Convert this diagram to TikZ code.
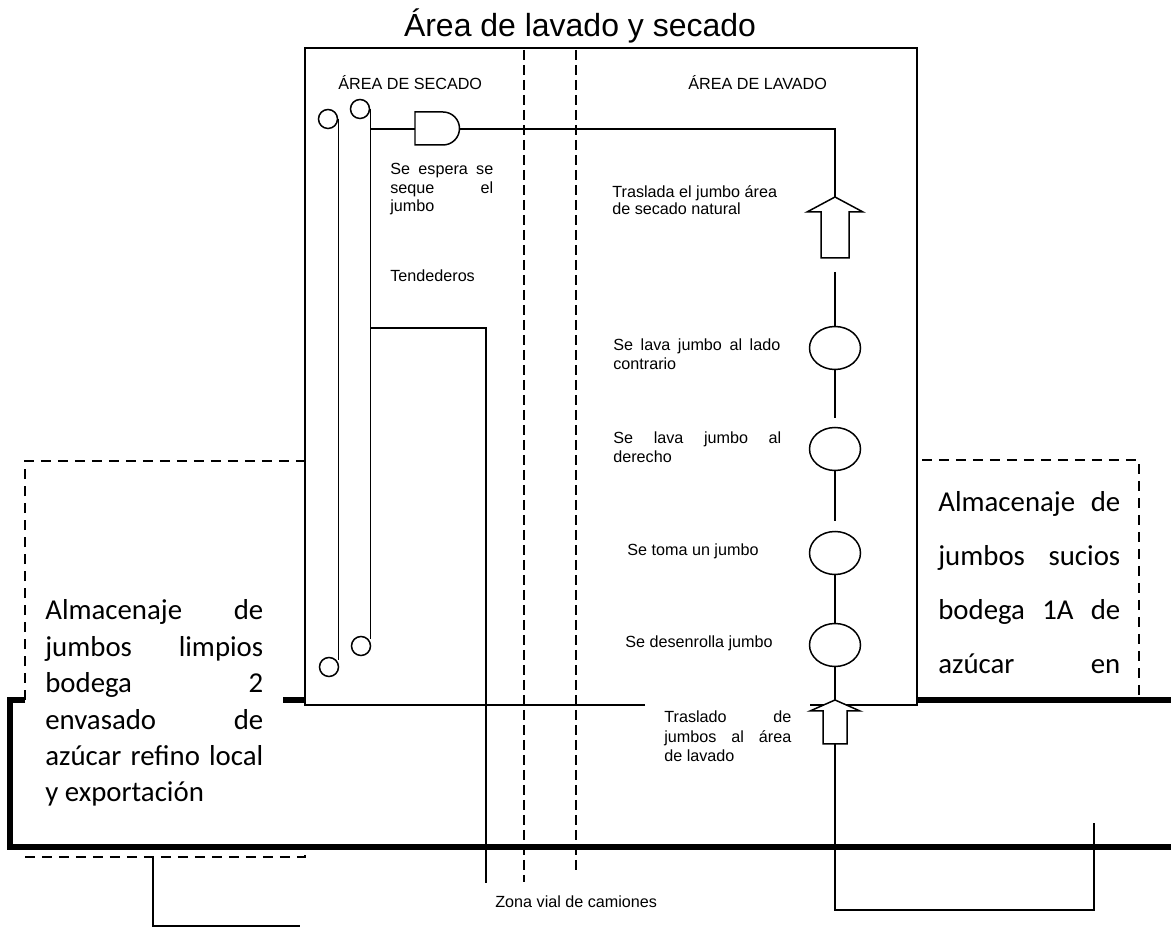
\documentclass[tikz,border=0pt]{standalone}
\usepackage{fontspec}
\setmainfont{Liberation Sans}
\newfontfamily\carlito{Carlito}
\usetikzlibrary{shapes.geometric}
\begin{document}
\begin{tikzpicture}[x=0.02cm,y=-0.02cm,
  wline/.style={line width=0.85pt, line join=miter},
  wall/.style={line width=3.4pt, line join=miter},
  dbox/.style={line width=1.1pt, dash pattern=on 0.2cm off 0.14cm},
  road/.style={line width=1.3pt, dash pattern=on 0.2cm off 0.1cm},
  lbl/.style={inner sep=0pt, font=\fontsize{9.2}{10.5}\selectfont},
  big/.style={inner sep=0pt, font=\carlito\fontsize{16.4}{20.7}\selectfont},
  rolls/.style={circle, draw, line width=0.85pt, minimum size=0.38cm, inner sep=0pt},
  stepc/.style={ellipse, draw, line width=0.85pt, minimum width=1.02cm, minimum height=0.86cm, inner sep=0pt},
  barrow/.style={draw, fill=white, line width=0.85pt, line join=miter}
]
\fill[white] (0,0) rectangle (1171,928);
\useasboundingbox (0,0) rectangle (1171,928);

% title
\node[inner sep=0pt, font=\fontsize{18.2}{22}\selectfont, anchor=base] (title) at (580,37) {Área de lavado y secado};

% dashed road lines
\draw[road] (524,50) -- (524,882);
\draw[road] (576,50) -- (576,873);

% main box
\draw[wline] (645,705) -- (305,705) -- (305,48) -- (917,48) -- (917,705) -- (810,705);

% thick walls
\draw[wall] (25,700) -- (10,700) -- (10,847) -- (1171,847);
\draw[wall] (283,700) -- (305,700);
\draw[wall] (917,700) -- (1171,700);

% dashed storage boxes
\draw[dbox] (25,700) -- (25,461) -- (305,461);
\draw[dbox] (25,857) -- (305,857) -- (305,850);
\draw[dbox] (922,460) -- (1139,460) -- (1139,698);

% area labels
\node[lbl, anchor=base west] (secado) at (338,90) {ÁREA DE SECADO};
\node[lbl, anchor=base west] (lavado) at (688,90) {ÁREA DE LAVADO};

% tendederos
\node[rolls] (t1a) at (328,119) {};
\node[rolls] (t2a) at (360,109) {};
\node[rolls] (t1b) at (329,667) {};
\node[rolls] (t2b) at (361,646) {};
\draw[wline] (t1a.east) -- (t1a.east |- t1b.north east);
\draw[wline] (t2a.east) -- (t2a.east |- t2b.north east);

% delay (gate) symbol
\coordinate (gin) at (415,129);
\coordinate (gout) at (459,129);
\draw[wline, fill=white] (415,112) -- (443,112) arc[start angle=90, end angle=-90, radius=0.33cm] -- (415,145) -- cycle;
\draw[wline] (t2a.east |- gin) -- (gin);

% upper arrow
\coordinate (a1tip) at (835,197);
\coordinate (a1tail) at (835,258);
\coordinate (a1gap) at (835,272);
\draw[wline] (gout) -| (a1tip);
\draw[barrow] (a1tip) -- (863,212) -- (849,212) -- (849,258) -- (821,258) -- (821,212) -- (807,212) -- cycle;

% operations
\node[stepc] (c1) at (835,348) {};
\node[stepc] (c2) at (835,449) {};
\node[stepc] (c3) at (835,553) {};
\node[stepc] (c4) at (835,645) {};
\draw[wline] (a1gap) -- (c1.north);
\draw[wline, shorten >=0.18cm] (c1.south) -- (c2.north);
\draw[wline, shorten >=0.2cm] (c2.south) -- (c3.north);
\draw[wline] (c3.south) -- (c4.north);

% lower arrow
\coordinate (a2tip) at (835,700);
\coordinate (a2tail) at (835,744);
\draw[wline] (c4.south) -- (a2tip);
\draw[barrow] (a2tip) -- (860,711) -- (847,711) -- (847,744) -- (823,744) -- (823,711) -- (810,711) -- cycle;
\coordinate (rcorner) at (1094,910);
\coordinate (rend) at (1094,823);
\draw[wline] (a2tail) |- (rcorner) -- (rend);

% tendedero to road
\coordinate (tc) at (486,328);
\coordinate (te) at (486,883);
\draw[wline] (t2a.east |- tc) -- (tc) -- (te);

% lower left line
\coordinate (lb1) at (153,857);
\coordinate (lb2) at (153,926);
\coordinate (lb3) at (300,926);
\draw[wline] (lb1) -- (lb2) -- (lb3);

% labels
\node[lbl, anchor=base west] (espera) at (390,175) {\parbox[t]{2.06cm}{Se\hfill espera\hfill se\\ seque\hfill el\\ jumbo}};
\node[lbl, anchor=base west] (tend) at (390,282) {Tendederos};
\node[lbl, font=\fontsize{9.2}{9.4}\selectfont, anchor=base west] (trasl) at (612,198) {\parbox[t]{3.5cm}{Traslada el jumbo área\\ de secado natural}};
\node[lbl, anchor=base west] (lavc) at (613,351) {\parbox[t]{3.34cm}{Se\hfill lava\hfill jumbo\hfill al\hfill lado\\ contrario}};
\node[lbl, anchor=base west] (lavd) at (613,444) {\parbox[t]{3.36cm}{Se\hfill lava\hfill jumbo\hfill al\\ derecho}};
\node[lbl, anchor=base west] (toma) at (627,556) {Se toma un jumbo};
\node[lbl, anchor=base west] (desen) at (625,648) {Se desenrolla jumbo};
\node[lbl, font=\fontsize{9.2}{11.1}\selectfont, anchor=base west] (trlav) at (664,723) {\parbox[t]{2.54cm}{Traslado\hfill de\\ jumbos\hfill al\hfill área\\ de lavado}};
\node[lbl, anchor=base west] (zona) at (495,908) {Zona vial de camiones};

% storage texts
\node[big, anchor=base west] (limpios) at (45,620) {\parbox[t]{4.36cm}{Almacenaje\hfill de\\ jumbos\hfill limpios\\ bodega\hfill 2\\ envasado\hfill de\\ azúcar\hfill refino\hfill local\\ y exportación}};
\node[big, font=\carlito\fontsize{16.4}{30.7}\selectfont, anchor=base west] (sucios) at (938,512) {\parbox[t]{3.64cm}{Almacenaje\hfill de\\ jumbos\hfill sucios\\ bodega\hfill 1A\hfill de\\ azúcar\hfill en}};
\end{tikzpicture}
\end{document}
